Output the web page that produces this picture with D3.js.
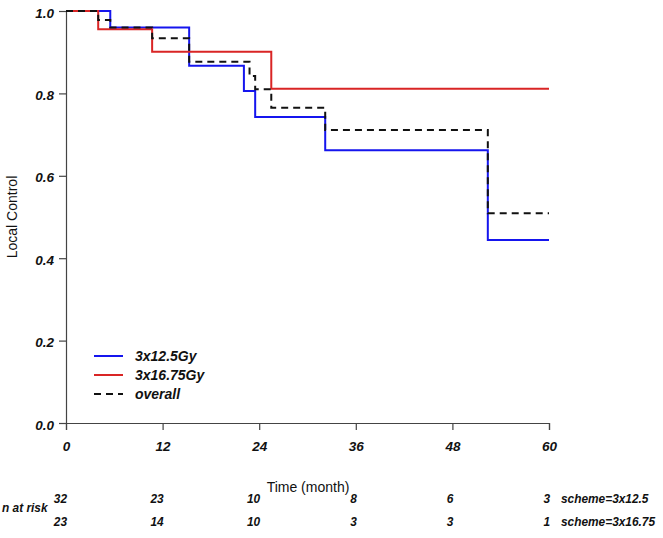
<!DOCTYPE html>
<html><head><meta charset="utf-8">
<script src="https://cdn.jsdelivr.net/npm/d3@7"></script>
<style>
body{margin:0;background:#fff;}
svg{display:block;font-family:"Liberation Sans",Arial,sans-serif;}
</style></head>
<body>
<svg id="chart" width="663" height="538"></svg>
<script>
// ---- data ----
const xTicks = [0, 12, 24, 36, 48, 60];
const yTicks = [0, 0.2, 0.4, 0.6, 0.8, 1.0];
const blueTimes = [0, 5.5, 15.3, 22.1, 23.5, 32.2, 52.4];
const blueSurv  = [1.0, 0.96, 0.867, 0.806, 0.743, 0.662, 0.444];
const redTimes  = [0, 4.0, 10.7, 25.5];
const redSurv   = [1.0, 0.956, 0.901, 0.811];
const overallTimes = [0, 4.0, 5.5, 10.7, 15.3, 22.8, 23.5, 25.5, 32.2, 52.4];
const overallSurv  = [1.0, 0.978, 0.96, 0.934, 0.877, 0.842, 0.81, 0.765, 0.711, 0.509];
const endTime = 60;
const seriesNames = ["3x12.5Gy", "3x16.75Gy", "overall"];
const riskRow1 = [32, 23, 10, 8, 6, 3];
const riskRow2 = [23, 14, 10, 3, 3, 1];
const riskLabels = ["scheme=3x12.5", "scheme=3x16.75"];

const svg = d3.select("#chart");
const m = {left: 66, top: 11, right: 114, bottom: 115};
const W = 663 - m.left - m.right, H = 538 - m.top - m.bottom;
const x = d3.scaleLinear().domain([0, 60]).range([m.left, m.left + W]);
const y = d3.scaleLinear().domain([0, 1]).range([m.top + H, m.top]);

// axes
const xAxis = svg.append("g").attr("transform", `translate(0,${m.top + H})`)
  .call(d3.axisBottom(x).tickValues(xTicks).tickSize(7).tickPadding(11).tickFormat(d3.format("d")));
const yAxis = svg.append("g").attr("transform", `translate(${m.left},0)`)
  .call(d3.axisLeft(y).tickValues(yTicks).tickSize(7).tickPadding(5).tickFormat(d3.format(".1f")));
[xAxis, yAxis].forEach(a => {
  a.select(".domain").attr("stroke", "#444").attr("stroke-width", 1.2);
  a.selectAll(".tick line").attr("stroke", "#444").attr("stroke-width", 1.2);
  a.selectAll("text").attr("font-family", "'Liberation Sans',Arial,sans-serif")
    .attr("font-size", 13.5).attr("font-weight", "bold").attr("font-style", "italic").attr("fill", "#111");
});
yAxis.selectAll("text").attr("dy", "0.45em");

// step lines
function stepPath(times, surv) {
  const pts = times.map((t, i) => [t, surv[i]]);
  pts.push([endTime, surv[surv.length - 1]]);
  return d3.line().x(d => x(d[0])).y(d => y(d[1])).curve(d3.curveStepAfter)(pts);
}
svg.append("path").attr("d", stepPath(blueTimes, blueSurv))
  .attr("fill", "none").attr("stroke", "#1515ee").attr("stroke-width", 2);
svg.append("path").attr("d", stepPath(redTimes, redSurv))
  .attr("fill", "none").attr("stroke", "#d92525").attr("stroke-width", 2);
svg.append("path").attr("d", stepPath(overallTimes, overallSurv))
  .attr("fill", "none").attr("stroke", "#111").attr("stroke-width", 2).attr("stroke-dasharray", "7,5");

// legend
const legend = [
  {name: seriesNames[0], color: "#1515ee", dash: null},
  {name: seriesNames[1], color: "#d92525", dash: null},
  {name: seriesNames[2], color: "#111", dash: "7,5"}
];
legend.forEach((d, i) => {
  const ly = 356 + i * 19;
  svg.append("line").attr("x1", 94).attr("x2", 123).attr("y1", ly).attr("y2", ly)
    .attr("stroke", d.color).attr("stroke-width", 2).attr("stroke-dasharray", d.dash);
  svg.append("text").attr("x", 135).attr("y", ly + 5).text(d.name)
    .attr("font-size", 14).attr("font-weight", "bold").attr("font-style", "italic").attr("fill", "#111");
});

// axis titles
svg.append("text").attr("x", 308).attr("y", 492).attr("text-anchor", "middle")
  .attr("font-size", 14).attr("fill", "#111").text("Time (month)");
svg.append("text").attr("transform", `translate(17,${m.top + H / 2}) rotate(-90)`)
  .attr("text-anchor", "middle").attr("font-size", 14).attr("fill", "#111").text("Local Control");

// risk table (condensed italic bold)
function condText(px, py, txt, anchor) {
  svg.append("text").attr("transform", `translate(${px},${py}) scale(0.88,1)`)
    .attr("text-anchor", anchor).attr("font-size", 13.5).attr("font-weight", "bold")
    .attr("font-style", "italic").attr("fill", "#111").text(txt);
}
const rowY = [503, 525.5];
[riskRow1, riskRow2].forEach((row, r) => {
  row.forEach((v, i) => condText(x(xTicks[i]) + 1, rowY[r], v, "end"));
  condText(561, rowY[r], riskLabels[r], "start");
});
condText(2, 512, "n at risk", "start");
</script>
</body></html>
